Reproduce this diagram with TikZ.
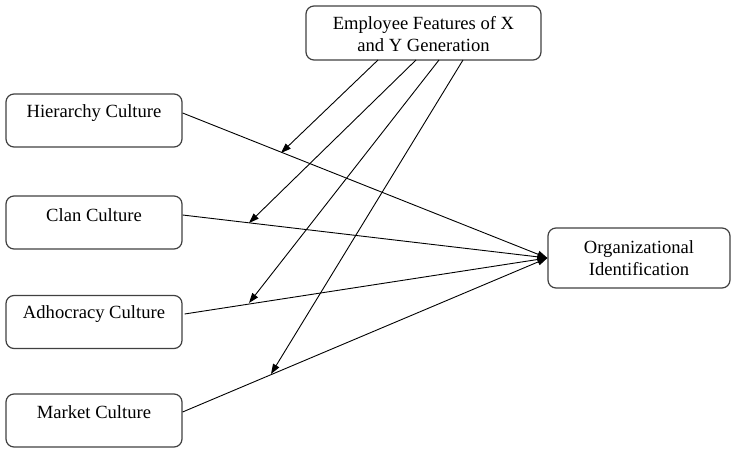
\documentclass[tikz,border=0pt]{standalone}
\usepackage{fontspec}
\setmainfont{Liberation Serif}
\usetikzlibrary{arrows.meta}
\begin{document}
\begin{tikzpicture}[x=1pt,y=-1pt,
  box/.style={draw=black!75,line width=1.2pt,rounded corners=8pt,inner sep=0pt},
  txt/.style={font=\fontsize{18.6}{22}\selectfont,align=center,inner sep=0pt},
  conn/.style={draw=black,line width=0.9pt},
  arr/.style={conn,-{Triangle[length=10pt,width=7pt]}}]
\useasboundingbox (0,0) rectangle (734,449);
% boxes
\node[box,minimum width=235pt,minimum height=54pt] (emp) at (423.5,33) {};
\node[txt] (empt) at (423.5,34) {Employee Features of X\\and Y Generation};
\node[box,minimum width=176pt,minimum height=53pt] (hier) at (94,120.5) {};
\node[txt] (hiert) at (94,113) {Hierarchy Culture};
\node[box,minimum width=176pt,minimum height=53pt] (clan) at (94,222.5) {};
\node[txt] (clant) at (94,215) {Clan Culture};
\node[box,minimum width=176pt,minimum height=53pt] (adho) at (94,322) {};
\node[txt] (adhot) at (94,314) {Adhocracy Culture};
\node[box,minimum width=176pt,minimum height=53pt] (mark) at (94,420.5) {};
\node[txt] (markt) at (94,412) {Market Culture};
\node[box,minimum width=182pt,minimum height=60pt] (org) at (639,258) {};
\node[txt] (orgt) at (639,258) {Organizational\\Identification};
% connectors to org
\draw[arr] (hier.east |- hiert) -- (org.west);
\draw[arr] (clan.east |- clant) -- (org.west);
\draw[arr] ([xshift=2pt]adho.east |- adhot) -- (org.west);
\draw[arr] (mark.east |- markt) -- (org.west);
% moderator arrows
\coordinate (e1) at (378,60);
\coordinate (e2) at (416,60);
\coordinate (e3) at (439,60);
\coordinate (e4) at (463,60);
\coordinate (t1) at (281,153);
\coordinate (t2) at (249,223);
\coordinate (t3) at (249,303);
\coordinate (t4) at (271,374);
\draw[arr] (e1) -- (t1);
\draw[arr] (e2) -- (t2);
\draw[arr] (e3) -- (t3);
\draw[arr] (e4) -- (t4);
\end{tikzpicture}
\end{document}
